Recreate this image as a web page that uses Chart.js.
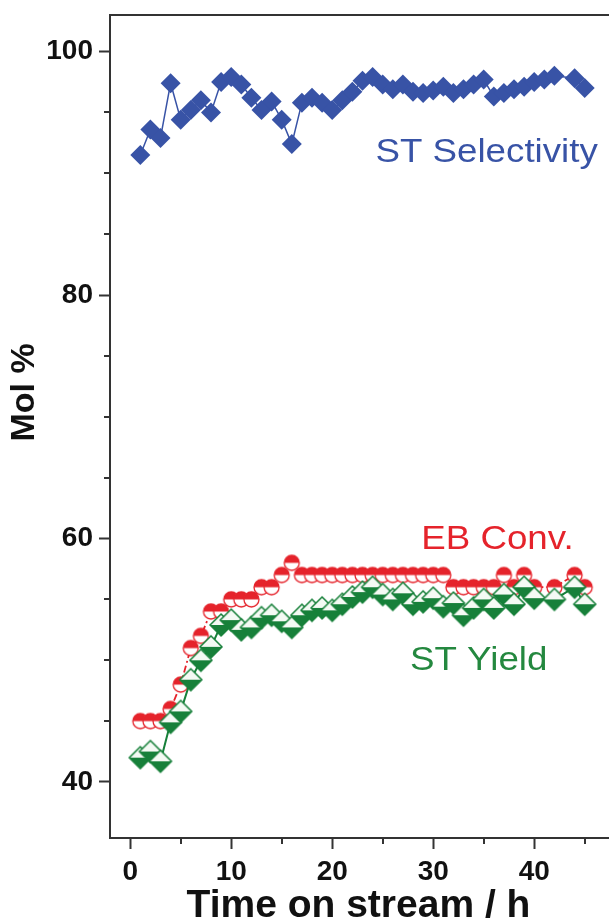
<!DOCTYPE html>
<html>
<head>
<meta charset="utf-8">
<script src="https://cdn.jsdelivr.net/npm/chart.js@4.4.1/dist/chart.umd.min.js"></script>
<style>
  html, body { margin: 0; padding: 0; background: #fff; overflow: hidden; }
  #wrap { position: relative; width: 640px; height: 921px; }
</style>
</head>
<body>
<div id="wrap"><canvas id="tosChart"></canvas></div>
<script>
// Styrene selectivity, EB conversion and styrene yield vs time on stream
const selHours = [1, 2, 3, 4, 5, 6, 7, 8, 9, 10, 11, 12, 13, 14, 15, 16, 17, 18, 19, 20,
  21, 22, 23, 24, 25, 26, 27, 28, 29, 30, 31, 32, 33, 34, 35, 36, 37, 38, 39, 40, 41, 42, 44, 45];
const selValues = [91.5, 93.6, 92.9, 97.4, 94.4, 95.2, 96.0, 95.0, 97.5, 97.9, 97.3, 96.2, 95.2, 95.9, 94.4, 92.4,
  95.8, 96.2, 95.8, 95.2, 96.0, 96.7, 97.6, 97.9, 97.3, 96.9, 97.3, 96.7, 96.6, 96.8,
  97.1, 96.6, 96.9, 97.3, 97.7, 96.3, 96.6, 96.9, 97.1, 97.5, 97.7, 98.0, 97.8, 97.0];

const convHours = [1, 2, 3, 4, 5, 6, 7, 8, 9, 10, 11, 12, 13, 14, 15, 16, 17, 18, 19, 20,
  21, 22, 23, 24, 25, 26, 27, 28, 29, 30, 31, 32, 33, 34, 35, 36, 37, 38, 39, 40, 42, 44, 45];
const convValues = [45, 45, 45, 46, 48, 51, 52, 54, 54, 55, 55, 55, 56, 56, 57, 58,
  57, 57, 57, 57, 57, 57, 57, 57, 57, 57, 57, 57, 57, 57, 57,
  56, 56, 56, 56, 56, 57, 56, 57, 56, 56, 57, 56];

const yieldHours = convHours;
const yieldValues = [42.0, 42.5, 41.7, 44.9, 45.8, 48.4, 50.0, 51.1, 52.9, 53.3, 52.5, 52.7, 53.5, 53.7, 53.2, 52.7,
  53.7, 54.1, 54.3, 54.1, 54.6, 55.2, 55.6, 56.0, 55.4, 55.0, 55.5, 54.6, 54.8, 55.1, 54.4,
  54.7, 53.7, 54.3, 55.0, 54.3, 55.4, 54.6, 56.0, 55.1, 55.0, 56.0, 54.6];

const yMajor = [40, 60, 80, 100];
const yMinor = [45, 50, 55, 65, 70, 75, 85, 90, 95];
const xMajor = [0, 10, 20, 30, 40];
const xMinor = [5, 15, 25, 35, 45];

const BLUE = '#3853a6';
const RED = '#e5232b';
const GREEN = '#17803a';
const AXIS = '#333';
const FONT = '"Liberation Sans", Arial, sans-serif';

const toPoints = (xs, ys) => xs.map((x, i) => ({ x: x, y: ys[i] }));

// half-filled markers (top-filled circle, bottom-filled diamond)
function halfCircle(r, color) {
  const c = document.createElement('canvas');
  c.width = c.height = 2 * r + 4;
  const g = c.getContext('2d');
  const m = r + 2;
  g.beginPath();
  g.arc(m, m, r, 0, Math.PI * 2);
  g.fillStyle = '#fff';
  g.fill();
  g.save();
  g.clip();
  g.fillStyle = color;
  g.fillRect(0, 0, c.width, m);
  g.restore();
  g.lineWidth = 1.3;
  g.strokeStyle = color;
  g.stroke();
  return c;
}

function halfDiamond(r, color) {
  const c = document.createElement('canvas');
  c.width = c.height = 2 * r + 4;
  const g = c.getContext('2d');
  const m = r + 2;
  g.beginPath();
  g.moveTo(m, m - r);
  g.lineTo(m + r, m);
  g.lineTo(m, m + r);
  g.lineTo(m - r, m);
  g.closePath();
  g.fillStyle = '#f4faf4';
  g.fill();
  g.save();
  g.clip();
  g.fillStyle = color;
  g.fillRect(0, m, c.width, m + 2);
  g.restore();
  g.lineWidth = 1.5;
  g.strokeStyle = color;
  g.stroke();
  return c;
}

const seriesLabels = [
  { text: 'ST Selectivity', x: 46.3, y: 90.9, color: BLUE, align: 'right' },
  { text: 'EB Conv.', x: 43.9, y: 59.1, color: RED, align: 'right' },
  { text: 'ST Yield', x: 27.7, y: 49.2, color: '#24883f', align: 'left' }
];

const extras = {
  id: 'extras',
  afterDraw(chart) {
    const { ctx, chartArea, scales } = chart;
    ctx.save();
    ctx.strokeStyle = AXIS;
    ctx.lineWidth = 2;
    // top frame line
    ctx.beginPath();
    ctx.moveTo(chartArea.left, chartArea.top);
    ctx.lineTo(chartArea.right, chartArea.top);
    ctx.stroke();
    // minor ticks
    ctx.beginPath();
    yMinor.forEach(v => {
      const y = Math.round(scales.y.getPixelForValue(v));
      ctx.moveTo(chartArea.left, y);
      ctx.lineTo(chartArea.left - 6, y);
    });
    xMinor.forEach(v => {
      const x = Math.round(scales.x.getPixelForValue(v));
      ctx.moveTo(x, chartArea.bottom);
      ctx.lineTo(x, chartArea.bottom + 6);
    });
    ctx.stroke();

    // series labels (slightly wide lettering)
    ctx.font = '34px ' + FONT;
    ctx.textBaseline = 'alphabetic';
    seriesLabels.forEach(l => {
      const px = scales.x.getPixelForValue(l.x);
      const py = scales.y.getPixelForValue(l.y);
      ctx.save();
      ctx.translate(px, py);
      ctx.scale(1.08, 1);
      ctx.fillStyle = l.color;
      ctx.textAlign = l.align;
      ctx.fillText(l.text, 0, 0);
      ctx.restore();
    });

    // x axis title
    ctx.font = 'bold 39px ' + FONT;
    ctx.fillStyle = '#111';
    ctx.textAlign = 'center';
    ctx.textBaseline = 'alphabetic';
    ctx.fillText('Time on stream / h', scales.x.getPixelForValue(22.6), chartArea.bottom + 79);

    // y axis title
    ctx.translate(chartArea.left - 85, scales.y.getPixelForValue(72));
    ctx.rotate(-Math.PI / 2);
    ctx.font = 'bold 34px ' + FONT;
    ctx.textBaseline = 'middle';
    ctx.fillText('Mol %', 0, 0);
    ctx.restore();
  }
};

const tickFont = { family: FONT, size: 28, weight: 'bold' };

// keep the plot frame fixed: no extra room reserved for edge labels
function noEdgePadding(s) {
  s.paddingTop = 0;
  s.paddingBottom = 0;
  s.paddingLeft = 0;
  s.paddingRight = 0;
}

new Chart(document.getElementById('tosChart'), {
  type: 'line',
  data: {
    datasets: [
      {
        label: 'ST Selectivity',
        data: toPoints(selHours, selValues),
        borderColor: BLUE,
        borderWidth: 1.5,
        pointStyle: 'rectRot',
        pointRadius: 10,
        pointBackgroundColor: BLUE,
        pointBorderColor: BLUE,
        pointBorderWidth: 0
      },
      {
        label: 'ST Yield',
        data: toPoints(yieldHours, yieldValues),
        borderColor: GREEN,
        borderWidth: 2,
        pointStyle: halfDiamond(11, GREEN)
      },
      {
        label: 'EB Conv.',
        data: toPoints(convHours, convValues),
        borderColor: RED,
        borderWidth: 1.8,
        borderDash: [7, 3, 2, 3],
        pointStyle: halfCircle(7.5, RED)
      }
    ]
  },
  options: {
    responsive: true,
    maintainAspectRatio: false,
    animation: false,
    layout: { padding: { top: 15, right: 25, left: 0, bottom: 0 } },
    plugins: {
      legend: { display: false },
      tooltip: { enabled: false }
    },
    scales: {
      x: {
        type: 'linear',
        min: -2,
        max: 48,
        afterBuildTicks: s => { s.ticks = xMajor.map(v => ({ value: v })); },
        afterFit: s => { s.height = 83; noEdgePadding(s); },
        grid: { drawOnChartArea: false, drawTicks: true, tickLength: 11, tickWidth: 2, tickColor: AXIS },
        border: { display: true, color: AXIS, width: 2 },
        ticks: { font: tickFont, color: '#111', padding: 6, maxRotation: 0 }
      },
      y: {
        type: 'linear',
        min: 35.4,
        max: 103,
        afterBuildTicks: s => { s.ticks = yMajor.map(v => ({ value: v })); },
        afterFit: s => { s.width = 110; noEdgePadding(s); },
        grid: { drawOnChartArea: false, drawTicks: true, tickLength: 11, tickWidth: 2, tickColor: AXIS },
        border: { display: true, color: AXIS, width: 2 },
        ticks: { font: tickFont, color: '#111', padding: 6 }
      }
    }
  },
  plugins: [extras]
});
</script>
</body>
</html>
